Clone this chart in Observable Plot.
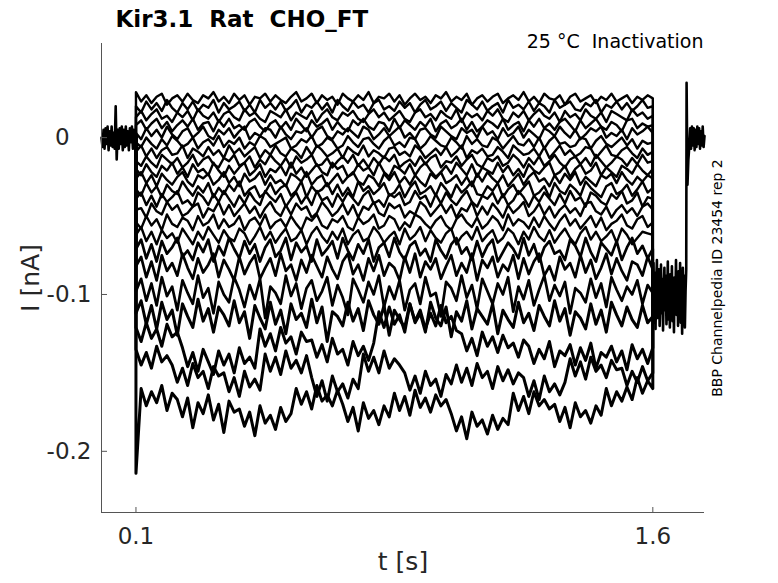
<!DOCTYPE html>
<html><head><meta charset="utf-8">
<script src="https://cdn.jsdelivr.net/npm/d3@7"></script>
<script src="https://cdn.jsdelivr.net/npm/@observablehq/plot@0.6"></script>
<style>body{margin:0;background:#fff}#chart{width:778px;height:583px}</style>
</head><body><div id="chart"></div>
<script>
// Time landmarks (s)
const stepStart = 0.1, stepEnd = 1.6, tailSpikeT = 1.698, recordEnd = 1.75;
const xDomain = [0, 1.75];
const yDomain = [-0.239, 0.060];
const xTicks = [0.1, 1.6];
const xTickLabels = ["0.1", "1.6"];
const yTicks = [0, -0.1, -0.2];
const yTickLabels = ["0\u2008\u2007", "-0.1", "-0.2"];

// Currents in pA
const holdingPre = [0,-6,5,-7,6,-4,7,-8,4,-5,7,-6,3,-7,20,-14,5,-7,6,-4,7,-8,5,-6,7,-5,4,-8,6,-3,7,-7,5,-6,1];
const tailBand = [-100,-80,-118,-86,-122,-92,-78,-115,-95,-84,-120,-104,-81,-112,-90,-123,-97,-83,-110,-88,-119,-102,-79,-116,-93,-121,-87,-108,-82,-117,-96,-124,-89,-105,-78,-113,-91,-120,-85,-109,-80,-118,-94,-125,-83,-111,-88,-121,-98,-84];
const tailRecovery = [35,-30,-14,-6,6,-7,7,-5,6,-8,5,-6,7,-4,6,-7,4,-5,7,-6,1];

// Sweeps during the 0.1–1.6 s step (pA)
const sweep1 = [29,23,27,22,26,28,21,25,27,23,28,24,22,27,25,29,23,26,22,28,24,27,21,26,25,28,23,27,24,22,26,29,23,25,28,22,27,24,26,21,28,25,23,27,24,29,22,26,25,28,23,27,21,25,28,24,26,22,27,25,29,23,26,24,28,21,25,27,23,26,28,22,25,27,24,29,23,26,22,28,25,24,27,21,26,28,23,25,27,22,26,24,28,23,25,27,22,26,24,27,25];
const sweep2 = [20,16,23,18,22,17,24,19,16,22,18,23,17,21,19,24,16,22,18,20,23,17,21,16,24,19,22,18,23,17,20,24,16,21,19,23,18,22,16,24,20,17,23,19,21,16,22,24,18,20,17,23,19,22,16,21,24,18,20,23,17,22,19,16,24,21,18,23,17,20,22,16,24,19,21,18,23,17,22,20,16,24,19,21,23,18,17,22,20,24,16,21,19,23,18,22,17,20,24,19,20];
const sweep3 = [13,17,11,15,18,12,14,10,16,13,17,11,18,14,12,16,10,15,17,13,11,18,14,16,12,10,17,15,13,18,11,16,14,12,17,10,15,18,13,11,16,14,17,12,10,15,18,13,16,11,14,17,12,10,16,18,13,15,11,17,14,12,18,10,16,13,15,11,17,14,18,12,10,16,13,17,11,15,18,14,12,16,10,17,13,15,11,18,14,12,16,10,17,15,13,11,18,14,16,12,14];
const sweep4 = [8,11,5,9,12,6,10,4,8,11,7,12,5,9,10,4,11,7,12,6,8,5,10,12,7,4,9,11,6,10,5,12,8,4,11,7,9,12,5,10,6,4,11,8,12,7,5,10,9,4,12,6,11,8,5,10,7,12,4,9,11,6,8,12,5,10,4,7,11,9,6,12,5,8,10,4,11,7,12,6,9,5,10,12,8,4,11,6,9,12,7,5,10,8,4,11,12,6,9,7,8];
const sweep5 = [3,-1,6,1,5,0,7,2,-1,4,6,0,3,7,1,-1,5,2,6,0,4,7,-1,3,1,6,5,0,7,2,-1,4,3,6,0,5,7,1,-1,4,2,6,3,0,7,5,-1,2,6,1,4,7,0,3,-1,5,6,2,0,7,4,1,-1,6,3,5,0,7,2,4,-1,6,1,3,7,0,5,2,-1,6,4,1,7,3,0,5,-1,2,6,4,7,0,3,1,5,-1,6,2,4,7,3];
const sweep6 = [-3,-6,0,-4,-7,-1,-5,1,-2,-6,-4,0,-7,-3,-1,-5,1,-6,-2,-4,0,-7,-3,-5,1,-1,-6,-4,-2,0,-7,-5,-1,-3,1,-6,-4,0,-2,-7,-5,1,-3,-6,-1,0,-4,-7,-2,1,-5,-3,-6,0,-1,-7,-4,1,-2,-5,-6,0,-3,-7,1,-4,-1,-5,-6,0,-2,-7,-3,1,-4,-5,-1,-6,0,-7,-2,1,-4,-3,-6,-5,0,-1,-7,-2,1,-4,-6,-3,0,-5,-1,-7,-2,-4,-3];
const sweep7 = [-9,-5,-12,-7,-13,-8,-6,-11,-10,-5,-13,-7,-9,-12,-6,-11,-8,-13,-5,-10,-7,-12,-9,-6,-13,-8,-11,-5,-10,-12,-7,-9,-13,-6,-11,-5,-8,-12,-10,-7,-13,-6,-9,-11,-5,-12,-8,-10,-13,-7,-6,-11,-9,-12,-5,-8,-13,-10,-7,-11,-6,-12,-9,-5,-13,-8,-10,-7,-12,-11,-6,-9,-13,-5,-8,-11,-10,-7,-12,-6,-13,-9,-5,-11,-8,-12,-10,-6,-7,-13,-9,-5,-11,-12,-8,-6,-10,-13,-7,-11,-9];
const sweep8 = [-15,-18,-12,-16,-19,-11,-14,-17,-13,-19,-16,-11,-18,-14,-12,-17,-19,-13,-15,-11,-18,-16,-12,-19,-14,-17,-11,-15,-18,-13,-19,-12,-16,-14,-11,-18,-17,-13,-19,-15,-12,-16,-11,-18,-14,-19,-13,-17,-12,-15,-11,-19,-16,-14,-18,-12,-17,-13,-11,-19,-15,-16,-12,-18,-14,-11,-17,-19,-13,-15,-12,-18,-16,-11,-14,-19,-13,-17,-12,-18,-15,-11,-16,-19,-14,-12,-17,-13,-18,-11,-15,-19,-16,-12,-14,-18,-13,-17,-11,-16,-15];
const sweep9 = [-20,-24,-17,-22,-25,-18,-21,-16,-23,-19,-25,-17,-22,-20,-24,-16,-21,-25,-18,-23,-19,-16,-24,-21,-17,-25,-20,-22,-18,-24,-16,-23,-19,-25,-21,-17,-22,-24,-16,-20,-18,-25,-23,-17,-21,-19,-24,-16,-22,-25,-18,-20,-23,-17,-24,-19,-16,-21,-25,-22,-18,-23,-16,-20,-24,-17,-25,-19,-21,-23,-16,-22,-18,-24,-20,-25,-17,-21,-23,-19,-16,-24,-22,-18,-25,-20,-17,-23,-21,-16,-24,-19,-22,-25,-18,-20,-23,-17,-21,-24,-20];
const sweep10 = [-26,-22,-29,-24,-31,-23,-27,-30,-25,-22,-28,-31,-24,-26,-23,-30,-27,-22,-29,-25,-31,-23,-28,-26,-22,-30,-24,-29,-27,-31,-23,-25,-28,-22,-30,-26,-24,-31,-27,-23,-29,-25,-22,-28,-30,-24,-26,-31,-23,-27,-22,-29,-25,-30,-24,-28,-31,-23,-26,-22,-29,-27,-24,-30,-25,-31,-23,-28,-22,-26,-29,-24,-31,-27,-23,-30,-25,-22,-28,-26,-31,-24,-29,-23,-27,-22,-30,-25,-28,-31,-24,-26,-23,-29,-22,-27,-30,-25,-28,-24,-26];
const sweep11 = [-33,-37,-29,-35,-31,-38,-30,-34,-36,-28,-33,-37,-31,-35,-29,-38,-32,-36,-30,-34,-28,-37,-33,-31,-38,-35,-29,-36,-32,-30,-37,-34,-28,-38,-31,-35,-33,-29,-36,-30,-37,-32,-38,-28,-34,-31,-36,-33,-29,-37,-35,-30,-38,-32,-28,-36,-34,-31,-37,-29,-33,-38,-30,-35,-32,-28,-36,-37,-31,-34,-29,-38,-33,-30,-36,-32,-28,-37,-35,-31,-38,-29,-34,-36,-30,-33,-37,-28,-32,-35,-38,-31,-29,-36,-34,-30,-37,-33,-28,-35,-32];
const sweep12 = [-39,-35,-43,-37,-44,-36,-41,-38,-34,-42,-40,-44,-35,-38,-43,-36,-41,-34,-39,-44,-37,-42,-35,-40,-43,-34,-38,-41,-36,-44,-39,-35,-42,-37,-43,-34,-40,-38,-44,-36,-41,-35,-39,-43,-37,-34,-42,-40,-44,-36,-38,-35,-43,-41,-34,-39,-37,-44,-36,-42,-35,-40,-43,-38,-34,-41,-44,-37,-39,-35,-42,-36,-43,-40,-34,-38,-44,-37,-41,-35,-39,-43,-36,-42,-34,-40,-38,-44,-35,-37,-41,-43,-36,-39,-34,-42,-40,-35,-44,-38,-39];
const sweep13 = [-46,-45,-51,-42,-47,-49,-41,-46,-43,-50,-48,-44,-42,-51,-45,-47,-41,-49,-43,-50,-46,-42,-48,-44,-51,-45,-41,-47,-50,-43,-49,-42,-46,-44,-51,-48,-41,-45,-50,-47,-42,-49,-43,-51,-44,-46,-41,-48,-50,-42,-45,-43,-51,-47,-49,-41,-44,-50,-46,-42,-48,-43,-51,-45,-47,-41,-50,-44,-49,-42,-46,-51,-43,-48,-45,-41,-50,-47,-42,-49,-44,-51,-46,-43,-48,-45,-50,-42,-41,-47,-49,-44,-51,-46,-43,-48,-45,-50,-44,-42,-46];
const sweep14 = [-54,-58,-50,-56,-52,-59,-49,-55,-57,-51,-53,-59,-50,-56,-54,-49,-58,-52,-57,-55,-50,-59,-53,-51,-56,-49,-58,-54,-52,-57,-50,-55,-59,-51,-53,-49,-56,-58,-52,-54,-50,-57,-59,-51,-55,-53,-49,-58,-56,-50,-52,-59,-54,-57,-49,-51,-55,-58,-53,-50,-56,-59,-52,-49,-54,-57,-51,-58,-55,-50,-53,-59,-49,-56,-52,-54,-58,-51,-57,-50,-55,-59,-53,-49,-56,-52,-58,-54,-50,-57,-51,-59,-55,-53,-49,-56,-58,-52,-50,-57,-54];
const sweep15 = [-62,-57,-66,-60,-68,-59,-64,-61,-67,-58,-63,-68,-60,-65,-57,-62,-67,-59,-64,-66,-58,-61,-68,-63,-57,-65,-60,-67,-62,-58,-66,-64,-59,-68,-61,-57,-63,-67,-60,-65,-58,-68,-62,-59,-66,-64,-57,-61,-67,-63,-60,-68,-58,-65,-62,-57,-66,-59,-64,-67,-61,-58,-68,-63,-60,-65,-57,-66,-62,-59,-67,-64,-58,-61,-68,-60,-65,-57,-63,-66,-59,-67,-62,-58,-64,-68,-61,-57,-65,-60,-66,-63,-59,-67,-58,-62,-68,-64,-60,-61,-62];
const sweep16 = [-71,-65,-77,-68,-79,-66,-74,-70,-64,-76,-72,-78,-67,-73,-65,-79,-69,-75,-64,-71,-77,-66,-74,-68,-79,-70,-65,-76,-72,-64,-78,-67,-73,-69,-79,-65,-75,-71,-66,-77,-64,-72,-78,-68,-74,-65,-79,-70,-67,-76,-64,-73,-78,-69,-66,-75,-71,-79,-65,-72,-77,-68,-64,-74,-70,-78,-66,-76,-69,-65,-79,-73,-67,-71,-77,-64,-75,-68,-79,-70,-66,-74,-72,-78,-65,-69,-76,-64,-73,-79,-67,-71,-75,-66,-78,-70,-64,-74,-69,-77,-71];
const sweep17 = [-82,-76,-89,-79,-91,-75,-85,-80,-88,-74,-83,-90,-77,-86,-81,-74,-89,-78,-84,-91,-76,-87,-80,-75,-90,-83,-77,-88,-74,-85,-81,-91,-78,-86,-75,-82,-89,-76,-84,-90,-79,-74,-87,-81,-91,-77,-85,-75,-88,-80,-83,-91,-76,-86,-74,-89,-79,-84,-77,-90,-82,-75,-88,-80,-86,-74,-91,-78,-83,-76,-89,-81,-85,-75,-90,-77,-87,-79,-74,-88,-82,-91,-76,-84,-80,-89,-75,-86,-78,-90,-83,-74,-87,-77,-85,-91,-79,-81,-88,-76,-84];
const sweep18 = [-98,-90,-104,-93,-107,-89,-101,-95,-110,-91,-99,-106,-88,-102,-96,-112,-92,-100,-105,-89,-97,-108,-94,-103,-90,-115,-95,-99,-106,-88,-101,-93,-109,-96,-91,-104,-98,-89,-107,-94,-102,-113,-90,-97,-105,-92,-100,-88,-108,-95,-103,-91,-110,-97,-93,-106,-89,-101,-99,-114,-92,-96,-104,-88,-102,-94,-109,-90,-98,-106,-93,-100,-89,-111,-95,-103,-91,-107,-97,-88,-104,-94,-101,-92,-112,-96,-99,-105,-90,-102,-93,-108,-89,-97,-104,-95,-100,-91,-106,-94,-99];
const sweep19 = [-112,-104,-119,-107,-122,-105,-116,-110,-126,-106,-114,-121,-103,-117,-109,-124,-108,-113,-120,-104,-118,-111,-128,-107,-115,-122,-105,-119,-110,-125,-106,-116,-112,-121,-103,-118,-108,-130,-111,-114,-120,-105,-117,-109,-123,-104,-113,-119,-107,-126,-110,-116,-121,-106,-118,-112,-124,-105,-115,-120,-108,-127,-111,-117,-104,-122,-109,-114,-119,-106,-125,-110,-116,-121,-105,-118,-112,-123,-107,-114,-120,-104,-117,-109,-126,-111,-115,-122,-106,-119,-110,-124,-105,-113,-120,-108,-116,-121,-107,-118,-114];
const sweep20 = [-121,-130,-118,-128,-122,-133,-119,-127,-124,-134,-146,-137,-149,-135,-143,-151,-136,-145,-138,-150,-134,-144,-140,-147,-122,-133,-125,-136,-121,-131,-127,-138,-124,-130,-129,-140,-132,-143,-128,-138,-135,-145,-130,-139,-133,-142,-131,-111,-121,-108,-119,-113,-124,-106,-117,-110,-122,-112,-120,-107,-118,-114,-123,-125,-136,-128,-139,-124,-133,-127,-137,-126,-134,-131,-140,-129,-133,-144,-135,-141,-130,-146,-136,-139,-132,-145,-134,-142,-131,-147,-137,-140,-133,-143,-136,-148,-132,-141,-135,-144,-134];
const sweep21 = [-135,-145,-137,-147,-133,-143,-139,-145,-156,-147,-158,-144,-153,-149,-160,-146,-152,-150,-162,-153,-165,-149,-159,-154,-161,-138,-149,-140,-151,-136,-147,-142,-150,-139,-153,-165,-155,-168,-152,-162,-157,-166,-154,-160,-138,-149,-140,-150,-136,-147,-141,-145,-150,-161,-152,-163,-149,-158,-154,-165,-151,-157,-145,-156,-147,-158,-144,-153,-149,-160,-146,-155,-148,-157,-150,-153,-165,-155,-167,-152,-162,-157,-164,-156,-141,-152,-143,-154,-140,-149,-145,-153,-142,-148,-147,-158,-149,-156,-146,-155,-150];
const sweep22 = [-214,-160,-171,-162,-169,-158,-174,-163,-167,-178,-166,-185,-169,-176,-164,-180,-170,-188,-168,-175,-173,-184,-175,-190,-171,-182,-177,-186,-172,-181,-176,-160,-170,-162,-173,-158,-168,-164,-171,-161,-170,-181,-172,-187,-169,-179,-174,-183,-171,-178,-163,-174,-165,-177,-161,-172,-166,-175,-164,-171,-167,-176,-187,-178,-192,-175,-184,-180,-189,-177,-186,-179,-183,-163,-174,-165,-176,-162,-171,-167,-173,-170,-181,-172,-185,-169,-178,-174,-182,-171,-177,-160,-171,-162,-168,-159,-167,-153,-163,-155,-160];

const sweeps = [sweep1,sweep2,sweep3,sweep4,sweep5,sweep6,sweep7,sweep8,sweep9,sweep10,sweep11,
  sweep12,sweep13,sweep14,sweep15,sweep16,sweep17,sweep18,sweep19,sweep20,sweep21,sweep22];

// Build rows (time in s, current in pA)
const spread = (arr, t0, t1) => arr.map((v, j) => ({t: t0 + (t1 - t0) * j / (arr.length - 1), pA: v}));
const rows = [];
sweeps.forEach((s, k) => {
  rows.push({sweep: k, t: stepStart, pA: holdingPre[holdingPre.length - 1]});
  spread(s, stepStart, stepEnd).forEach(r => rows.push({sweep: k, ...r}));
  rows.push({sweep: k, t: stepEnd, pA: tailBand[0]});
});
const holdRows = [
  ...spread(holdingPre, 0, stepStart).map(r => ({seg: "pre", ...r})),
  ...spread(tailBand, stepEnd, tailSpikeT - 0.001).map(r => ({seg: "post", ...r})),
  ...spread(tailRecovery, tailSpikeT, recordEnd).map(r => ({seg: "post", ...r}))
];
const small = rows.filter(r => r.sweep < 15);
const mid = rows.filter(r => r.sweep >= 15 && r.sweep < 18);
const large = rows.filter(r => r.sweep >= 18);

const ink = "#262626", axisInk = "#555";
const lineOpts = w => ({x: "t", y: d => d.pA / 1000, z: "sweep", stroke: "#000", strokeWidth: w});
const chart = Plot.plot({
  width: 778, height: 583,
  marginLeft: 101, marginRight: 74, marginTop: 43, marginBottom: 71,
  x: {domain: xDomain},
  y: {domain: yDomain},
  style: {fontFamily: "DejaVu Sans, sans-serif", color: ink, background: "#fff"},
  marks: [
    Plot.line(small, lineOpts(2.4)),
    Plot.line(mid, lineOpts(2.7)),
    Plot.line(large, lineOpts(3)),
    Plot.line(holdRows, {x: "t", y: d => d.pA / 1000, z: "seg", stroke: "#000", strokeWidth: 2.6}),
    Plot.ruleX([xDomain[0]], {stroke: axisInk}),
    Plot.ruleY([yDomain[0]], {stroke: axisInk}),
    Plot.axisY(yTicks, {tickSize: 6, dx: 6, text: null, label: null, stroke: axisInk}),
    Plot.axisY(yTicks, {tickSize: 0, tickPadding: 10, label: null, fontSize: 23, fill: ink,
      tickFormat: d => yTickLabels[yTicks.indexOf(d)]}),
    Plot.axisX(xTicks, {tickSize: 5, dy: -5, text: null, label: null, stroke: axisInk}),
    Plot.axisX(xTicks, {tickSize: 0, tickPadding: 15, label: null, fontSize: 23, fill: ink,
      tickFormat: d => xTickLabels[xTicks.indexOf(d)]}),
    Plot.text(["I [nA]"], {text: d => d, frameAnchor: "left", textAnchor: "middle", dx: -71, rotate: -90, fontSize: 25, fill: ink}),
    Plot.text(["t [s]"], {text: d => d, frameAnchor: "bottom", dy: 57, fontSize: 25, fill: ink}),
    Plot.text(["Kir3.1  Rat  CHO_FT"], {text: d => d, frameAnchor: "top-left", textAnchor: "start", lineAnchor: "bottom",
      dx: 14, dy: -17, fontSize: 23, fontWeight: "bold", fill: "#000"}),
    Plot.text(["25 \u00b0C  Inactivation"], {text: d => d, frameAnchor: "top-right", textAnchor: "end", lineAnchor: "bottom",
      dx: -1, dy: 4, fontSize: 19, fill: "#000"}),
    Plot.text(["BBP Channelpedia ID 23454 rep 2"], {text: d => d, frameAnchor: "right", textAnchor: "middle", dx: 13, rotate: -90,
      fontSize: 14, fill: "#000"})
  ]
});
document.getElementById("chart").append(chart);
</script>
</body></html>
